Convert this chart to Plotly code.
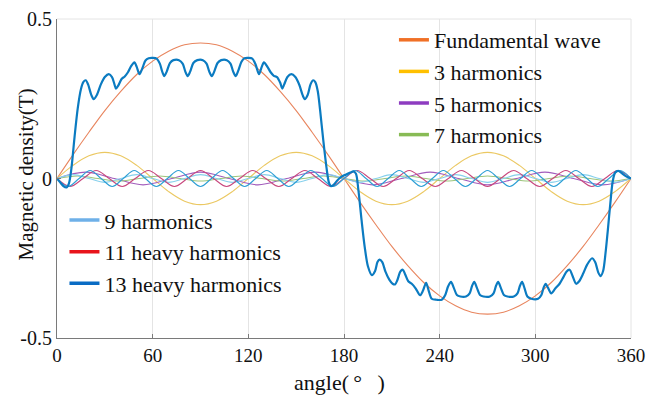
import plotly.graph_objects as go

# ---------------- data ----------------
fund_angle = [0, 10, 20, 30, 40, 50, 60, 70, 80, 90, 100, 110, 120, 130, 140, 150, 160, 170, 180,
              190, 200, 210, 220, 230, 240, 250, 260, 270, 280, 290, 300, 310, 320, 330, 340, 350, 360]
fund_value = [0, 0.074, 0.145, 0.213, 0.273, 0.326, 0.368, 0.399, 0.419, 0.425, 0.419, 0.399, 0.368,
              0.326, 0.273, 0.213, 0.145, 0.074, 0, -0.074, -0.145, -0.213, -0.273, -0.326, -0.368,
              -0.399, -0.419, -0.425, -0.419, -0.399, -0.368, -0.326, -0.273, -0.213, -0.145, -0.074, 0]

h3_angle = fund_angle
h3_value = [0, 0.041, 0.071, 0.082, 0.071, 0.041, 0, -0.041, -0.071, -0.082, -0.071, -0.041,
            0, 0.041, 0.071, 0.082, 0.071, 0.041, 0, -0.041, -0.071, -0.082, -0.071, -0.041,
            0, 0.041, 0.071, 0.082, 0.071, 0.041, 0, -0.041, -0.071, -0.082, -0.071, -0.041, 0]

h5_angle = [0, 18, 36, 54, 72, 90, 108, 126, 144, 162, 180, 198, 216, 234, 252, 270, 288, 306, 324, 342, 360]
h5_value = [0, 0.02, 0, -0.02, 0, 0.02, 0, -0.02, 0, 0.02, 0, -0.02, 0, 0.02, 0, -0.02, 0, 0.02, 0, -0.02, 0]

h7_angle = [0, 12.86, 25.71, 38.57, 51.43, 64.29, 77.14, 90, 102.86, 115.71, 128.57, 141.43, 154.29,
            167.14, 180, 192.86, 205.71, 218.57, 231.43, 244.29, 257.14, 270, 282.86, 295.71, 308.57,
            321.43, 334.29, 347.14, 360]
h7_value = [0, 0.008, 0, -0.008, 0, 0.008, 0, -0.008, 0, 0.008, 0, -0.008, 0, 0.008, 0, -0.008,
            0, 0.008, 0, -0.008, 0, 0.008, 0, -0.008, 0, 0.008, 0, -0.008, 0]

h9_angle = fund_angle
h9_value = [0, 0.012, 0, -0.012, 0, 0.012, 0, -0.012, 0, 0.012, 0, -0.012, 0, 0.012, 0, -0.012,
            0, 0.012, 0, -0.012, 0, 0.012, 0, -0.012, 0, 0.012, 0, -0.012, 0, 0.012, 0, -0.012,
            0, 0.012, 0, -0.012, 0]

h11_angle = [0, 8.18, 16.36, 24.55, 32.73, 40.91, 49.09, 57.27, 65.45, 73.64, 81.82, 90, 98.18, 106.36,
             114.55, 122.73, 130.91, 139.09, 147.27, 155.45, 163.64, 171.82, 180, 188.18, 196.36, 204.55,
             212.73, 220.91, 229.09, 237.27, 245.45, 253.64, 261.82, 270, 278.18, 286.36, 294.55, 302.73,
             310.91, 319.09, 327.27, 335.45, 343.64, 351.82, 360]
h11_value = [0, -0.025, 0, 0.025, 0, -0.025, 0, 0.025, 0, -0.025, 0, 0.025, 0, -0.025, 0, 0.025,
             0, -0.025, 0, 0.025, 0, -0.025, 0, 0.025, 0, -0.025, 0, 0.025, 0, -0.025, 0, 0.025,
             0, -0.025, 0, 0.025, 0, -0.025, 0, 0.025, 0, -0.025, 0, 0.025, 0]

h13_angle = [0, 6.92, 13.85, 20.77, 27.69, 34.62, 41.54, 48.46, 55.38, 62.31, 69.23, 76.15, 83.08, 90,
             96.92, 103.85, 110.77, 117.69, 124.62, 131.54, 138.46, 145.38, 152.31, 159.23, 166.15, 173.08,
             180, 186.92, 193.85, 200.77, 207.69, 214.62, 221.54, 228.46, 235.38, 242.31, 249.23, 256.15,
             263.08, 270, 276.92, 283.85, 290.77, 297.69, 304.62, 311.54, 318.46, 325.38, 332.31, 339.23,
             346.15, 353.08, 360]
h13_value = [0, -0.025, 0, 0.025, 0, -0.025, 0, 0.025, 0, -0.025, 0, 0.025, 0, -0.025, 0, 0.025,
             0, -0.025, 0, 0.025, 0, -0.025, 0, 0.025, 0, -0.025, 0, 0.025, 0, -0.025, 0, 0.025,
             0, -0.025, 0, 0.025, 0, -0.025, 0, 0.025, 0, -0.025, 0, 0.025, 0, -0.025, 0, 0.025,
             0, -0.025, 0, 0.025, 0]

comp_angle = [0, 2, 4, 6, 7.5, 9, 11, 13, 15, 16.5, 18, 19.5, 21.5, 23, 25, 27.5, 30, 32.5, 34.5, 36, 37,
              38.5, 40.5, 42.5, 44.5, 46.5, 48.5, 50, 51.7, 53.5, 55.5, 57.5, 60, 62.5, 64.5, 66, 67.3,
              68.8, 70.8, 73, 76.5, 78.8, 80.5, 81.9, 83.5, 85.5, 88, 91.5, 93.8, 95.5, 97.1, 98.6,
              100.7, 103, 106.5, 108.8, 110.5, 112.1, 113.7, 115.7, 117.5, 120, 122.5, 124.5, 126.7,
              128.4, 129.8, 132, 134, 136, 138, 140, 141.3, 142.5, 144.5, 147, 149.5, 152, 154, 155.4,
              157.2, 159, 160.6, 162, 163.5, 165, 167, 169, 170.5, 171.8, 173.5, 175.5, 178, 181, 184,
              186, 187.5, 189, 191, 193, 195, 197.5, 199.5, 201, 202.3, 204, 206, 208.5, 210.5, 212,
              213.5, 215.3, 216.9, 218.3, 220.3, 222.5, 225, 227.7, 229.5, 231.5, 233, 235, 238, 241.3,
              243.5, 245.3, 247.1, 248.8, 250.8, 253, 256.5, 258.8, 260.3, 261.7, 263.3, 265.3, 267.5,
              271.5, 273.8, 275.3, 276.7, 278.3, 280.3, 282.5, 286.5, 288.8, 290.3, 291.7, 293.3, 295,
              297.5, 301.7, 303.8, 305.2, 306.5, 308, 310, 312.5, 315.2, 317.5, 319.5, 321.5, 323.3,
              325.6, 327.5, 330, 332.5, 335.6, 337.5, 339.5, 340.9, 342.5, 344, 345.5, 347, 348.5, 350,
              352, 354, 356, 358, 360]
comp_value = [0, -0.012, -0.024, -0.028, -0.015, 0.03, 0.13, 0.22, 0.28, 0.302, 0.308, 0.295, 0.262,
              0.249, 0.262, 0.295, 0.318, 0.327, 0.318, 0.296, 0.282, 0.292, 0.312, 0.32, 0.333, 0.352,
              0.364, 0.35, 0.327, 0.345, 0.37, 0.377, 0.378, 0.376, 0.36, 0.335, 0.321, 0.335, 0.362,
              0.371, 0.371, 0.36, 0.335, 0.321, 0.335, 0.362, 0.371, 0.371, 0.36, 0.335, 0.321, 0.335,
              0.362, 0.371, 0.371, 0.36, 0.335, 0.321, 0.338, 0.366, 0.377, 0.378, 0.376, 0.358, 0.327,
              0.35, 0.364, 0.35, 0.333, 0.322, 0.318, 0.3, 0.282, 0.295, 0.318, 0.327, 0.318, 0.293,
              0.262, 0.249, 0.262, 0.295, 0.308, 0.302, 0.275, 0.215, 0.12, 0.035, -0.012, -0.024,
              -0.02, -0.008, 0.004, 0.012, 0.019, 0.022, 0.015, -0.035, -0.13, -0.215, -0.275, -0.303,
              -0.29, -0.262, -0.254, -0.262, -0.292, -0.318, -0.33, -0.332, -0.318, -0.292, -0.286,
              -0.3, -0.322, -0.33, -0.345, -0.366, -0.352, -0.327, -0.35, -0.377, -0.38, -0.38, -0.365,
              -0.338, -0.324, -0.342, -0.365, -0.37, -0.37, -0.36, -0.337, -0.324, -0.342, -0.365,
              -0.37, -0.37, -0.36, -0.337, -0.324, -0.342, -0.365, -0.37, -0.37, -0.36, -0.337, -0.324,
              -0.345, -0.37, -0.377, -0.377, -0.365, -0.342, -0.33, -0.343, -0.36, -0.345, -0.33,
              -0.31, -0.292, -0.286, -0.305, -0.33, -0.322, -0.298, -0.27, -0.25, -0.262, -0.295,
              -0.306, -0.29, -0.235, -0.16, -0.08, -0.01, 0.018, 0.024, 0.018, 0.01, 0.004, 0]

legend1_names = ["Fundamental wave", "3 harmonics", "5 harmonics", "7 harmonics"]
legend2_names = ["9 harmonics", "11 heavy harmonics", "13 heavy harmonics"]

x_tickvals = [0, 60, 120, 180, 240, 300, 360]
x_ticktext = ["0", "60", "120", "180", "240", "300", "360"]
y_tickvals = [-0.5, 0, 0.5]
y_ticktext = ["-0.5", "0", "0.5"]

x_title = "angle(\u2009°\u2002\u2009)"
y_title = "Magnetic density(T)"

# ---------------- styles ----------------
FONT = "Liberation Serif, Times New Roman, DejaVu Serif, serif"
TXT = "#111111"
GRID = "#E4E4E4"
AXIS = "#7A7A7A"
curve_styles = [
    (fund_angle, fund_value, "#E8855E", 1.1),
    (h3_angle, h3_value, "#EBC862", 1.1),
    (h5_angle, h5_value, "#A25CBC", 1.1),
    (h7_angle, h7_value, "#9CC57C", 1.1),
    (h9_angle, h9_value, "#86D0EC", 1.1),
    (h11_angle, h11_value, "#C8487E", 1.1),
    (h13_angle, h13_value, "#2E9FD5", 1.1),
]
legend1_colors = ["#F07026", "#FFC000", "#8E3CC0", "#88BB55"]
legend2_colors = ["#6EB0E8", "#E8141C", "#0A6CC4"]

fig = go.Figure()
for xs, ys, col, w in curve_styles:
    fig.add_trace(go.Scatter(x=xs, y=ys, mode="lines", showlegend=False, hoverinfo="skip",
                             line=dict(color=col, width=w, shape="spline", smoothing=1)))
fig.add_trace(go.Scatter(x=comp_angle, y=comp_value, mode="lines", showlegend=False, hoverinfo="skip",
                         line=dict(color="#0B7BC1", width=2.2, shape="spline", smoothing=0.8)))

for name, col in zip(legend1_names, legend1_colors):
    fig.add_trace(go.Scatter(x=[None], y=[None], mode="lines", name=name, legend="legend",
                             line=dict(color=col, width=3.5)))
for name, col in zip(legend2_names, legend2_colors):
    fig.add_trace(go.Scatter(x=[None], y=[None], mode="lines", name=name, legend="legend2",
                             line=dict(color=col, width=3.5)))

leg_common = dict(bgcolor="rgba(0,0,0,0)", borderwidth=0,
                  font=dict(family=FONT, size=22, color=TXT), itemwidth=30,
                  xanchor="left", yanchor="top")

fig.update_layout(
    template="none",
    width=646, height=396,
    margin=dict(l=57, r=15, t=19, b=58),
    paper_bgcolor="white", plot_bgcolor="white",
    font=dict(family=FONT, color=TXT),
    legend=dict(x=0.587, y=1.0, **leg_common),
    legend2=dict(x=0.013, y=0.435, **leg_common),
    xaxis=dict(range=[0, 360], tickvals=x_tickvals, ticktext=x_ticktext, automargin=False,
               showgrid=True, gridcolor=GRID, gridwidth=1, zeroline=False,
               showline=True, linecolor=AXIS, linewidth=1,
               ticks="inside", ticklen=4, tickcolor=AXIS, ticklabeloverflow="allow",
               tickfont=dict(family=FONT, size=19, color=TXT)),
    yaxis=dict(range=[-0.5, 0.5], tickvals=y_tickvals, ticktext=y_ticktext, automargin=False,
               showgrid=False, zeroline=False,
               showline=True, linecolor=AXIS, linewidth=1,
               ticks="inside", ticklen=4, tickcolor=AXIS, ticklabeloverflow="allow",
               tickfont=dict(family=FONT, size=20, color=TXT)),
    shapes=[dict(type="line", xref="paper", yref="paper", x0=0, x1=1, y0=1, y1=1,
                 line=dict(color=GRID, width=1), layer="below"),
            dict(type="line", xref="paper", yref="paper", x0=1, x1=1, y0=0, y1=1,
                 line=dict(color=GRID, width=1), layer="below")],
    annotations=[
        dict(text=x_title, xref="paper", yref="paper", x=0.4925, y=-0.138,
             xanchor="center", yanchor="middle", showarrow=False,
             font=dict(family=FONT, size=22, color=TXT)),
        dict(text=y_title, xref="paper", yref="paper", x=-0.0545, y=0.512, textangle=-90,
             xanchor="center", yanchor="middle", showarrow=False,
             font=dict(family=FONT, size=21, color=TXT)),
    ],
)

fig.write_html("out.html")
